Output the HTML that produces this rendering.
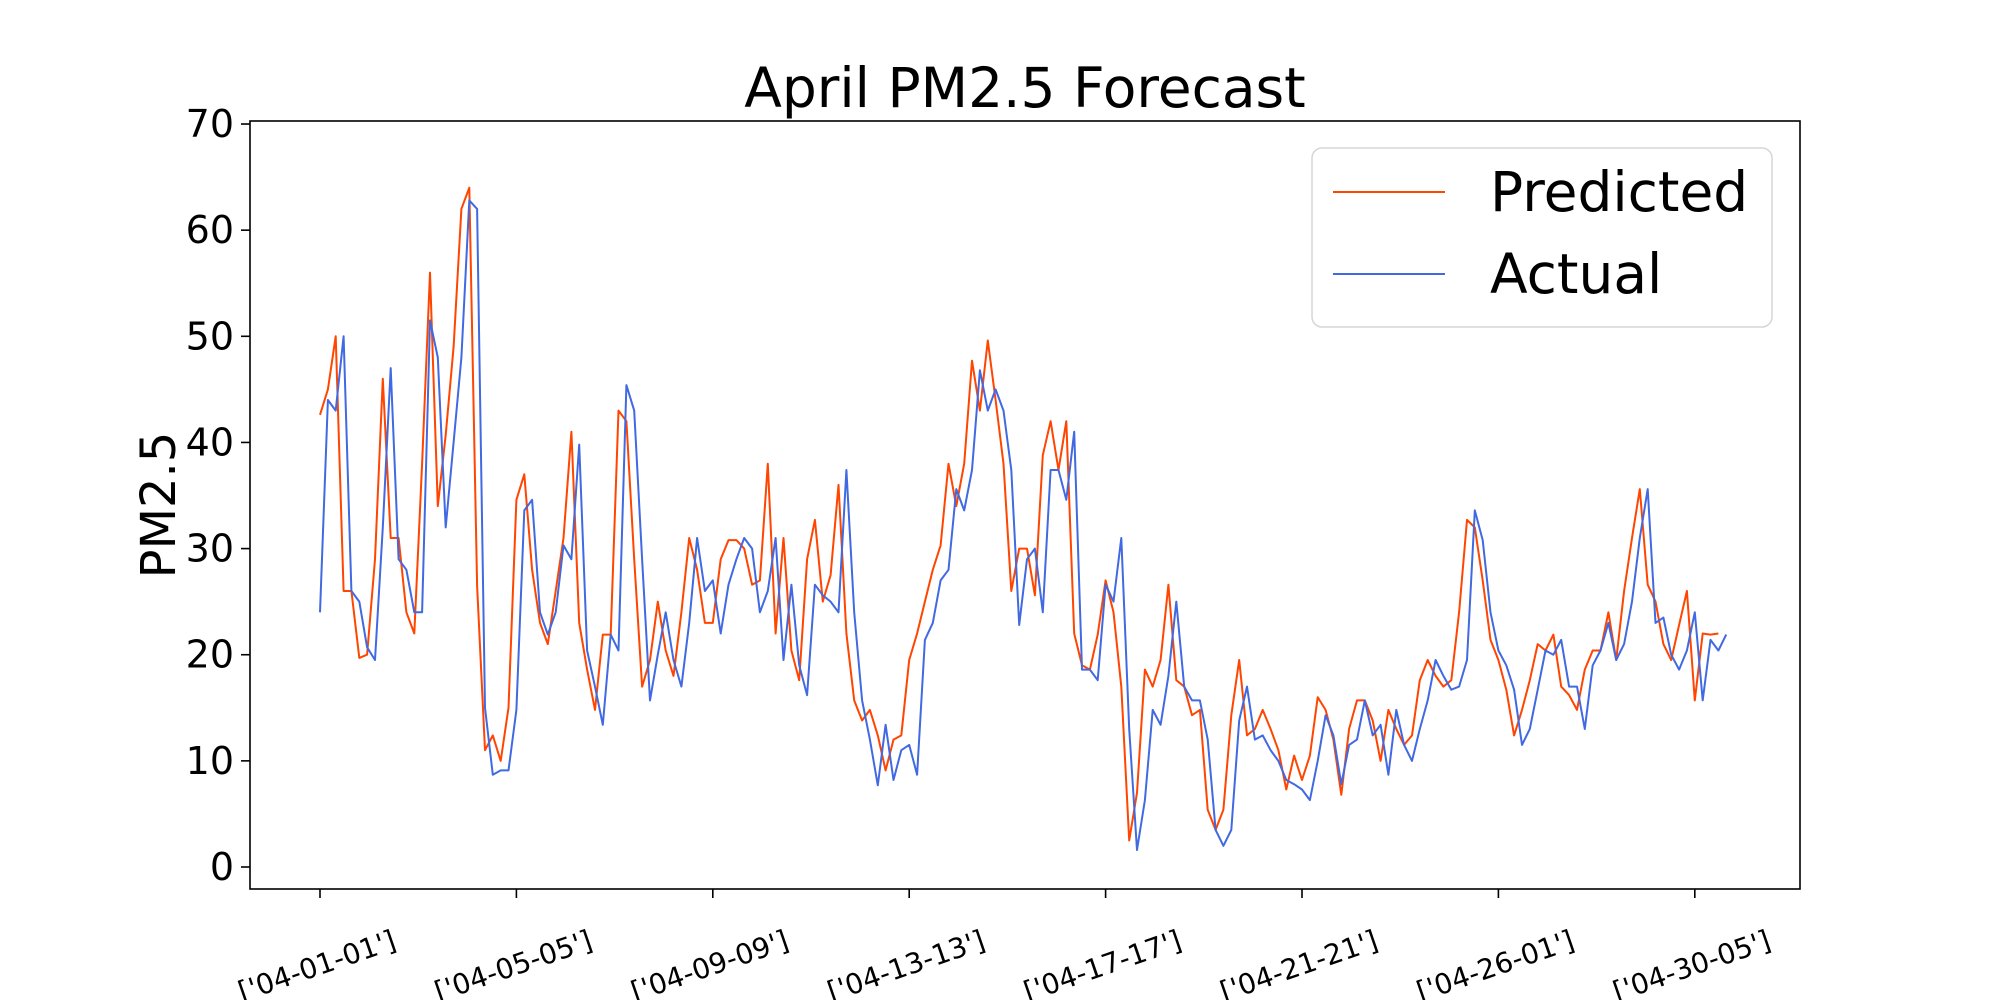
<!DOCTYPE html>
<html>
<head>
<meta charset="utf-8">
<style>
html,body{margin:0;padding:0;background:#fff;}
svg{display:block;font-family:"DejaVu Sans","Liberation Sans",sans-serif;}
</style>
</head>
<body>
<svg id="chart" width="2000" height="1000" viewBox="0 0 2000 1000">
  <rect x="0" y="0" width="2000" height="1000" fill="#fff"/>
  <text x="1025" y="107" font-size="55" text-anchor="middle" fill="#000">April PM2.5 Forecast</text>
  <text transform="translate(175,505) rotate(-90)" font-size="48" text-anchor="middle" fill="#000">PM2.5</text>
  <g id="plot"></g>
  <g id="yaxis"></g>
  <g id="xaxis"></g>
  <rect x="250" y="121" width="1550" height="768" fill="none" stroke="#000" stroke-width="1.6"/>
  <g>
    <rect x="1312" y="148" width="460" height="179" rx="10" fill="#fff" fill-opacity="0.8" stroke="#d6d6d6" stroke-width="1.5"/>
    <line x1="1333" y1="192" x2="1445" y2="192" stroke="#FF4500" stroke-width="2"/>
    <text x="1490" y="211" font-size="55" fill="#000">Predicted</text>
    <line x1="1333" y1="274" x2="1445" y2="274" stroke="#4169E1" stroke-width="2"/>
    <text x="1490" y="293" font-size="55" fill="#000">Actual</text>
  </g>
</svg>
<script>
const step = 4;
const actual = [24,44,43,50,26,25,20.7,19.5,32,47,29,28,24,24,51.5,48,32,40,48,62.8,62,15,8.7,9.1,9.1,14.8,33.6,34.6,24,21.9,24,30.3,
29,39.8,20.4,17,13.4,21.9,20.4,45.4,43,29,15.7,20,24,19.5,17,23,31,26,27,22,26.6,29,31,30,24,26,31,19.5,26.6,19,16.2,26.6,25.6,
25,24,37.4,24,15.7,12,7.7,13.4,8.2,11,11.5,8.7,21.4,23,27,28,35.6,33.6,37.4,46.8,43,45,43,37.4,22.8,29,30,24,37.4,37.4,34.6,41,18.6,
18.6,17.6,26.6,25,31,13,1.6,6.3,14.8,13.4,18,25,17,15.7,15.7,12,3.5,2,3.5,13.8,17,12,12.4,11,10,8.2,7.8,7.3,6.3,10,14.3,12.4,7.8,
11.5,12,15.7,12.4,13.4,8.7,14.8,11.5,10,13,15.7,19.5,18,16.7,17,19.5,33.6,30.8,24,20.4,19,16.7,11.5,13,16.7,20.4,20,21.4,17,17,13,19,20.4,23,
19.5,21,25,31,35.6,23,23.5,20,18.6,20.4,24,15.7,21.4,20.4,21.9];
const predicted = [42.6,45,50,26,26,19.7,20,29,46,31,31,24,22,38,56,34,40.7,49,62,64,26.5,11,12.4,10,15,34.6,37,28,23,21,26,31,
41,23,18.6,14.8,21.9,21.9,43,42,29,17,19.5,25,20.4,18,24,31,28,23,23,29,30.8,30.8,30,26.6,27,38,22,31,20.4,17.6,29,32.7,25,
27.5,36,22,15.7,13.8,14.8,12.4,9.1,12,12.4,19.5,22,25,28,30.3,38,34,38,47.7,43,49.6,44,38,26,30,30,25.6,38.8,42,37.4,42,22,19,
18.6,21.9,27,24,17,2.5,7,18.6,17,19.5,26.6,17.6,17,14.3,14.8,5.4,3.5,5.4,14.3,19.5,12.4,13,14.8,13,11,7.3,10.5,8.2,10.5,16,14.8,12,6.8,
13,15.7,15.7,13.8,10,14.8,13,11.5,12.4,17.6,19.5,18,17,17.6,24,32.7,32,27,21.4,19.5,16.7,12.4,14.8,17.6,21,20.4,21.9,17,16.2,14.8,18.6,20.4,20.4,24,
19.5,26,31,35.6,26.6,25,21,19.5,22.8,26,15.7,22,21.9,22];
const yTicks = [0,10,20,30,40,50,60,70];
const xTickIdx = [0,100,200,300,400,500,600,700];
const xTickLabels = ["['04-01-01']","['04-05-05']","['04-09-09']","['04-13-13']","['04-17-17']","['04-21-21']","['04-26-01']","['04-30-05']"];

const NS = 'http://www.w3.org/2000/svg';
function xs(i){ return 320 + i * 1.964; }
function ys(v){ return 867 - v * 10.614; }
function mk(tag, attrs, parent){
  const e = document.createElementNS(NS, tag);
  for (const k in attrs) e.setAttribute(k, attrs[k]);
  parent.appendChild(e);
  return e;
}
const yaxis = document.getElementById('yaxis');
yTicks.forEach(v => {
  const t = mk('line', {x1:250, x2:241, y1:ys(v), y2:ys(v), stroke:'#000', 'stroke-width':1.6}, yaxis);
  
  
  const l = mk('text', {x:234, y:ys(v)+13, 'font-size':38, 'text-anchor':'end', fill:'#000'}, yaxis);
  l.textContent = v;
  
  
});
const xaxis = document.getElementById('xaxis');
xTickIdx.forEach((i, k) => {
  const x = xs(i);
  const t = mk('line', {x1:x, x2:x, y1:889, y2:898, stroke:'#000', 'stroke-width':1.6}, xaxis);
  
  
  const l = mk('text', {transform:'translate(' + x + ',975) rotate(-19)', 'font-size':28, 'text-anchor':'middle', fill:'#000'}, xaxis);
  l.textContent = xTickLabels[k];
  
  
});
const plot = document.getElementById('plot');
function series(arr, color, name){
  const d = arr.map((v, i) => (i ? 'L' : 'M') + xs(i*step).toFixed(1) + ' ' + ys(v).toFixed(1)).join(' ');
  const p = mk('path', {d:d, fill:'none', stroke:color, 'stroke-width':2, 'stroke-linejoin':'round'}, plot);
  
  
}
series(predicted, '#FF4500', 'predicted-line');
series(actual, '#4169E1', 'actual-line');
</script>
</body>
</html>
